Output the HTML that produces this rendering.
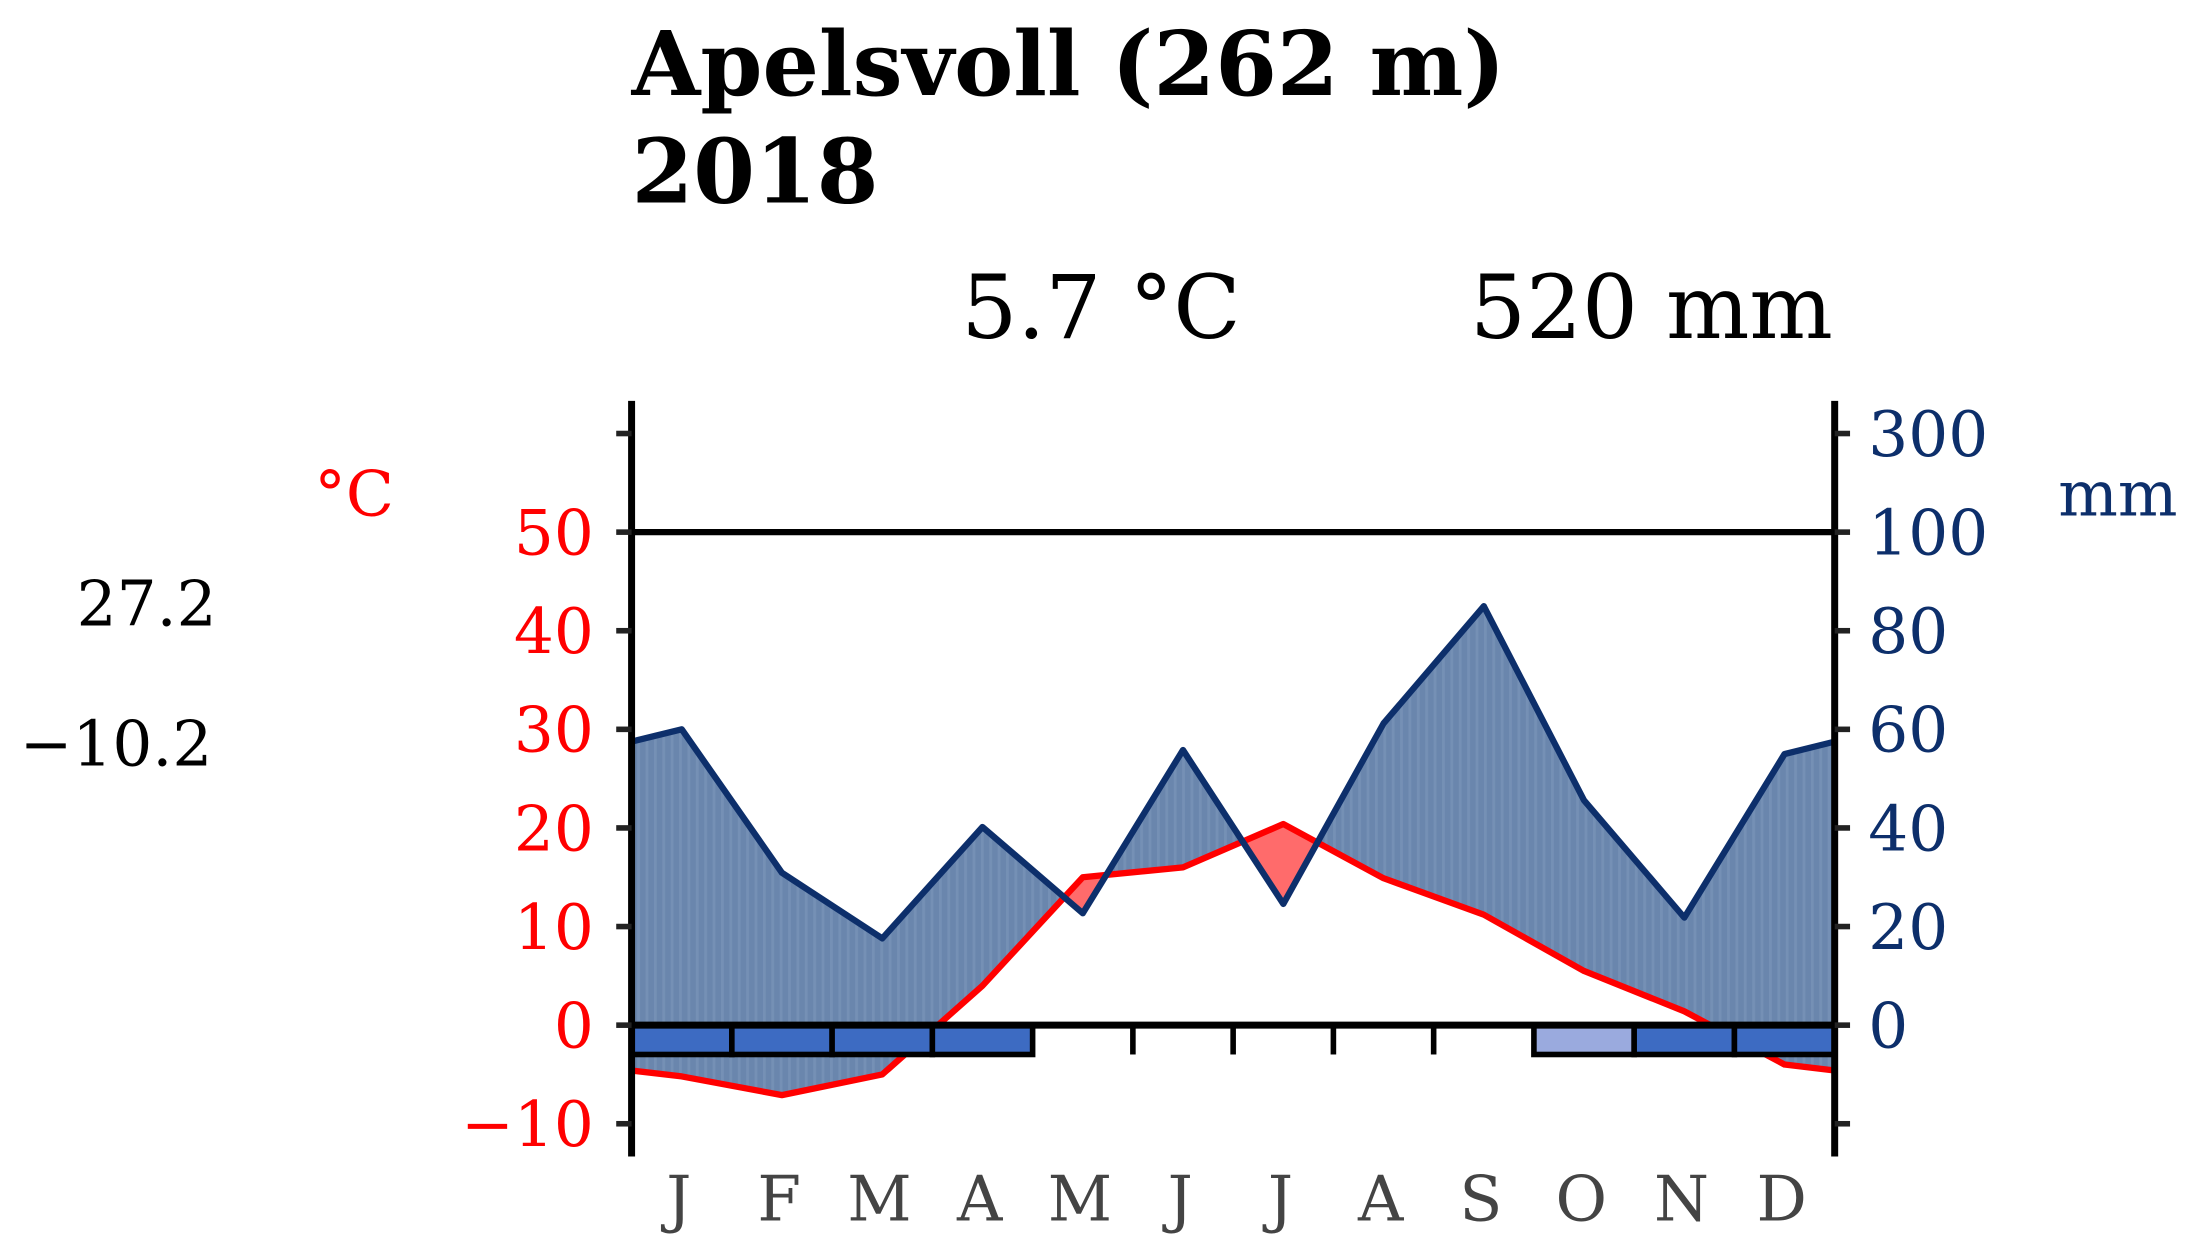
<!DOCTYPE html>
<html><head><meta charset="utf-8"><style>
html,body{margin:0;padding:0;background:#fff;}
svg{display:block;}
text{font-family:"DejaVu Serif","Liberation Serif",serif;}
</style></head><body>
<svg id="chart" width="2191" height="1257" viewBox="0 0 1568 900" preserveAspectRatio="none" xmlns="http://www.w3.org/2000/svg">
<text x="452" y="68" font-size="63.5" font-weight="bold">Apelsvoll (262 m)</text>
<text x="452" y="145" font-size="63.5" font-weight="bold">2018</text>
<text x="688" y="242" font-size="63">5.7 °C</text>
<text x="1052" y="242" font-size="63">520 mm</text>
<text x="225" y="369" font-size="45" fill="#ff0000">°C</text>
<text x="1473" y="369" font-size="45" fill="#0d2f6b">mm</text>
<text x="155" y="448" font-size="45" text-anchor="end">27.2</text>
<text x="152" y="548" font-size="45" text-anchor="end">−10.2</text>
<defs>
<clipPath id="aboveTemp"><polygon id="aboveTempPoly"/></clipPath>
<clipPath id="abovePrec"><polygon id="abovePrecPoly"/></clipPath>
<pattern id="stripes" width="6" height="10" patternUnits="userSpaceOnUse">
<rect width="6" height="10" fill="#6a86ad"/><rect width="2" height="10" fill="#7590b5"/>
</pattern>
</defs>
<g id="plot"></g>
</svg>
<script>
const months = ["J","F","M","A","M","J","J","A","S","O","N","D"];
const precipitation = [60, 30.9, 17.6, 40.2, 22.7, 55.8, 24.6, 61.2, 85, 45.6, 21.8, 55];
const temperature = [-5.2, -7.1, -5.0, 4.0, 15.0, 16.0, 20.4, 14.9, 11.2, 5.5, 1.4, -4.0];
const frost = [2, 2, 2, 2, 0, 0, 0, 0, 0, 1, 2, 2];
const tempTicks = [-10, 0, 10, 20, 30, 40, 50];
const precTicks = [0, 20, 40, 60, 80, 100, 300];

const NS = "http://www.w3.org/2000/svg";
const X0 = 452, X1 = 1313, Y0 = 734, PX10 = 70.6;
const mw = (X1 - X0) / 12;
const xm = i => X0 + mw * (i + 0.5);
const yT = t => Y0 - t * PX10 / 10;
const yP = p => p <= 100 ? Y0 - p * PX10 / 20 : yT(50) - (p - 100) / 200 * PX10;
const g = document.getElementById("plot");
function el(tag, attrs, parent) {
  const e = document.createElementNS(NS, tag);
  for (const k in attrs) e.setAttribute(k, attrs[k]);
  (parent || g).appendChild(e);
  return e;
}
function pts(vals, fy) {
  const edgeL = (vals[0] + vals[11]) / 2;
  const arr = [[X0, fy(edgeL)]];
  vals.forEach((v, i) => arr.push([xm(i), fy(v)]));
  arr.push([X1, fy(edgeL)]);
  return arr;
}
const pP = pts(precipitation, yP), pT = pts(temperature, yT);
const s = a => a.map(p => p[0].toFixed(1) + "," + p[1].toFixed(1)).join(" ");
document.getElementById("aboveTempPoly").setAttribute("points", s(pT) + ` ${X1},0 ${X0},0`);
document.getElementById("abovePrecPoly").setAttribute("points", s(pP) + ` ${X1},0 ${X0},0`);

const blue = el("polygon", {points: s(pP) + ` ${X1},900 ${X0},900`, fill: "url(#stripes)", "clip-path": "url(#aboveTemp)"});


const red = el("polygon", {points: s(pT) + ` ${X1},900 ${X0},900`, fill: "#ff6b6b", "clip-path": "url(#abovePrec)"});



const tl = el("polyline", {points: s(pT), fill: "none", stroke: "#ff0000", "stroke-width": 4.5, "stroke-linejoin": "round"});


const pl = el("polyline", {points: s(pP), fill: "none", stroke: "#0d2f6b", "stroke-width": 4.5, "stroke-linejoin": "round"});



const hl = el("line", {x1: X0, x2: X1, y1: yT(50), y2: yT(50), stroke: "#000", "stroke-width": 4.5});



const FB = 21;
frost.forEach((f, i) => {
  const xa = X0 + mw * i;
  if (f > 0) {
    const r = el("rect", {x: xa, y: Y0, width: mw, height: FB, fill: f === 2 ? "#3d6bc2" : "#9aaade", stroke: "#000", "stroke-width": 4});
    
    
  } else if (i > 0 && frost[i - 1] === 0) {
    const t = el("line", {x1: xa, x2: xa, y1: Y0, y2: Y0 + FB, stroke: "#000", "stroke-width": 4});
    
    
  }
});
const zl = el("line", {x1: X0, x2: X1, y1: Y0, y2: Y0, stroke: "#000", "stroke-width": 5});



const la = el("line", {x1: X0, x2: X0, y1: 287, y2: 828, stroke: "#000", "stroke-width": 5});


const ra = el("line", {x1: X1, x2: X1, y1: 287, y2: 828, stroke: "#000", "stroke-width": 5});


[-10, 0, 10, 20, 30, 40, 50, 60].forEach(t => {
  const a = el("line", {x1: X0 - 11, x2: X0, y1: yT(t), y2: yT(t), stroke: "#222", "stroke-width": 4});
  
  
  const b = el("line", {x1: X1, x2: X1 + 11, y1: yT(t), y2: yT(t), stroke: "#222", "stroke-width": 4});
  
  
});
tempTicks.forEach(t => {
  const e = el("text", {x: 425, y: yT(t) + 16, "font-size": 45, fill: "#ff0000", "text-anchor": "end"});
  e.textContent = t < 0 ? "−" + Math.abs(t) : String(t);
  
  
});
precTicks.forEach(p => {
  const e = el("text", {x: 1337, y: yP(p) + 16, "font-size": 45, fill: "#0d2f6b"});
  e.textContent = String(p);
  
  
});
months.forEach((m, i) => {
  const e = el("text", {x: xm(i) - 2, y: 874, "font-size": 45, fill: "#444", "text-anchor": "middle"});
  e.textContent = m;
  
  
});
</script>
</body></html>
